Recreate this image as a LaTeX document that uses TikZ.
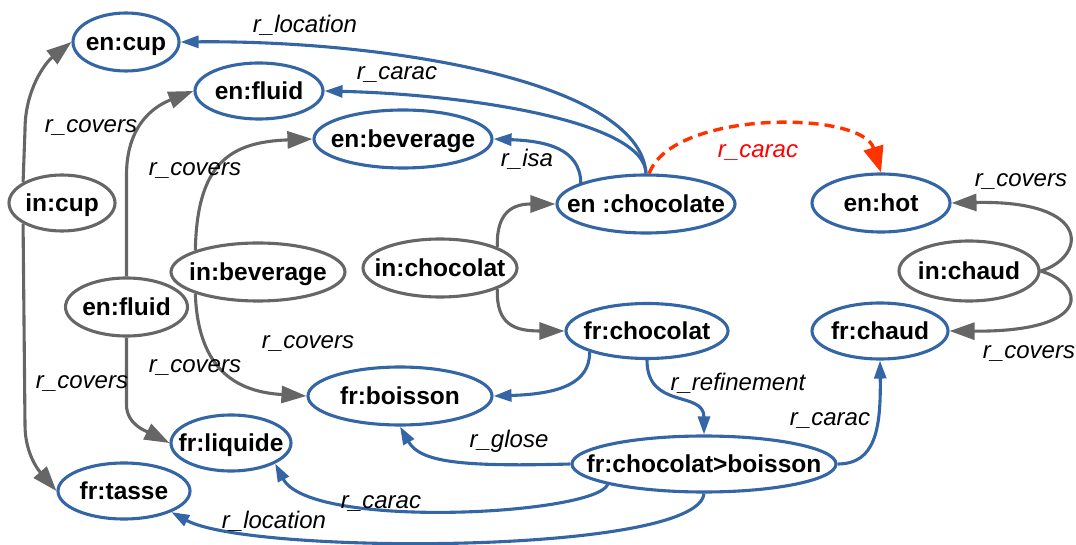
\documentclass[tikz,border=0pt]{standalone}
\usepackage{fontspec}
\setmainfont{Liberation Sans}
\usetikzlibrary{shapes.geometric,arrows.meta}
\definecolor{enblue}{HTML}{3465A4}
\definecolor{ingrey}{HTML}{666666}
\definecolor{infer}{HTML}{FF3300}
\definecolor{infertext}{HTML}{FF0000}

\begin{document}
\begin{tikzpicture}[x=1pt,y=-1pt,
  concept/.style={ellipse, line width=3.1pt, fill=white, inner sep=0pt,
    text height=17pt, text depth=0pt,
    font=\fontsize{24.5}{29}\selectfont\bfseries},
  blue node/.style={concept, draw=enblue},
  grey node/.style={concept, draw=ingrey},
  rel/.style={line width=3.1pt},
  bluerel/.style={rel, draw=enblue, -{Triangle[length=18pt,width=12pt]}},
  greyrel/.style={rel, draw=ingrey, -{Triangle[length=25pt,width=17pt]}},
  inferred/.style={rel, line width=3.4pt, draw=infer, dash pattern=on 10pt off 6pt,
    -{Triangle[length=26pt,width=20pt]}},
  lbl/.style={anchor=base, inner sep=0pt, font=\fontsize{24}{29}\selectfont\itshape},
]
\useasboundingbox (0,0) rectangle (1076,545);

% concepts
\node[blue node, minimum width=106pt, minimum height=58pt] (encup)     at (126,42)  {\makebox[0pt]{en:cup}};
\node[blue node, minimum width=128pt, minimum height=56pt] (enfluid)   at (259,91)  {\makebox[0pt]{en:fluid}};
\node[blue node, minimum width=178pt, minimum height=58pt] (enbev)     at (403,139) {\makebox[0pt]{en:beverage}};
\node[grey node, minimum width=106pt, minimum height=56pt] (incup)     at (62,203)  {\makebox[0pt]{in:cup}};
\node[blue node, minimum width=178pt, minimum height=58pt] (enchoc)    at (646,204) {\makebox[0pt]{en :chocolate}};
\node[blue node, minimum width=138pt, minimum height=58pt] (enhot)     at (881,203) {\makebox[0pt]{en:hot}};
\node[grey node, minimum width=140pt, minimum height=60pt] (inchaud)   at (969,271) {\makebox[0pt]{in:chaud}};
\node[grey node, minimum width=154pt, minimum height=58pt] (inchoc)    at (440,268) {\makebox[0pt]{in:chocolat}};
\node[grey node, minimum width=174pt, minimum height=58pt] (inbev)     at (258,272) {\makebox[0pt]{in:beverage}};
\node[grey node, minimum width=122pt, minimum height=58pt] (gfluid)    at (126.5,307) {\makebox[0pt]{en:fluid}};
\node[blue node, minimum width=162pt, minimum height=55pt] (frchoc)    at (647,331) {\makebox[0pt]{fr:chocolat}};
\node[blue node, minimum width=136pt, minimum height=56pt] (frchaud)   at (880,331) {\makebox[0pt]{fr:chaud}};
\node[blue node, minimum width=184pt, minimum height=58pt] (frboisson) at (400,396) {\makebox[0pt]{fr:boisson}};
\node[blue node, minimum width=120pt, minimum height=56pt] (frliquide) at (231,443) {\makebox[0pt]{fr:liquide}};
\node[blue node, minimum width=132pt, minimum height=56pt] (frtasse)   at (124,491) {\makebox[0pt]{fr:tasse}};
\node[blue node, minimum width=264pt, minimum height=56pt] (frcb)      at (704,464) {\makebox[0pt]{fr:chocolat>boisson}};

% relations from en :chocolate
\draw[bluerel] (enchoc.north) .. controls (640,80) and (380,40) .. (encup.east);
\draw[bluerel] (enchoc.north) .. controls (645,120) and (460,94) .. (enfluid.east);
\draw[bluerel] (enchoc.162) .. controls (580,148) and (545,141) .. (enbev.east);
\draw[inferred] (enchoc.84) .. controls (672,110) and (862,110) .. (enhot.north);

% r_covers links
\draw[greyrel] (inchoc.20) .. controls (496,210) and (515,204) .. (enchoc.west);
\draw[greyrel] (inchoc.-20) .. controls (496,325) and (515,331) .. (frchoc.west);
\draw[greyrel] (incup.152) -- (25,130) .. controls (25,90) and (45,63) .. (encup.west);
\draw[greyrel] (incup.208) -- (25,425) .. controls (25,455) and (40,472) .. (frtasse.west);
\draw[greyrel] (gfluid.north) -- (126.5,175) .. controls (126.5,120) and (160,104) .. (enfluid.west);
\draw[greyrel] (gfluid.south) -- (126.5,405) .. controls (126.5,425) and (148,432) .. (frliquide.west);
\draw[greyrel] (inbev.161) .. controls (197,163) and (230,142) .. (enbev.west);
\draw[greyrel] (inbev.199) .. controls (198,373) and (240,392) .. (frboisson.west);
\draw[greyrel] (inchaud.east) .. controls (1085,258) and (1095,200) .. (enhot.east);
\draw[greyrel] (inchaud.east) .. controls (1085,284) and (1095,332) .. (frchaud.east);

% French side
\draw[bluerel] (frchoc.200) .. controls (590,383) and (560,394) .. (frboisson.east);
\draw[bluerel] (frchoc.south) .. controls (647,410) and (704,390) .. (frcb.north);
\draw[bluerel] (frcb.east) .. controls (875,464) and (881,430) .. (frchaud.south);
\draw[bluerel] (frcb.west) .. controls (460,467) and (420,462) .. (frboisson.south);
\draw[bluerel] (frcb.192) .. controls (595,515) and (310,530) .. (frliquide.-25);
\draw[bluerel] (frcb.south) .. controls (698,555) and (250,555) .. (frtasse.-24);

% relation labels
\node[lbl] (lloc1)  at (305,33)  {r\_location};
\node[lbl] (lcar1)  at (397,80)  {r\_carac};
\node[lbl] (lcov1)  at (91,133)  {r\_covers};
\node[lbl] (lcov2)  at (195,176) {r\_covers};
\node[lbl] (lisa)   at (527,167) {r\_isa};
\node[lbl, text=infertext] (lcarhot) at (758,158) {r\_carac};
\node[lbl] (lcov3)  at (1021,187) {r\_covers};
\node[lbl] (lcov4)  at (1029,358) {r\_covers};
\node[lbl] (lcov5)  at (308,348) {r\_covers};
\node[lbl] (lcov6)  at (195,372) {r\_covers};
\node[lbl] (lcov7)  at (82,388)  {r\_covers};
\node[lbl] (lglose) at (509,447) {r\_glose};
\node[lbl] (lcar2)  at (381,508) {r\_carac};
\node[lbl] (lloc2)  at (274,528) {r\_location};
\node[lbl] (lref)   at (738,390) {r\_refinement};
\node[lbl] (lcar3)  at (830,425) {r\_carac};
\end{tikzpicture}
\end{document}
